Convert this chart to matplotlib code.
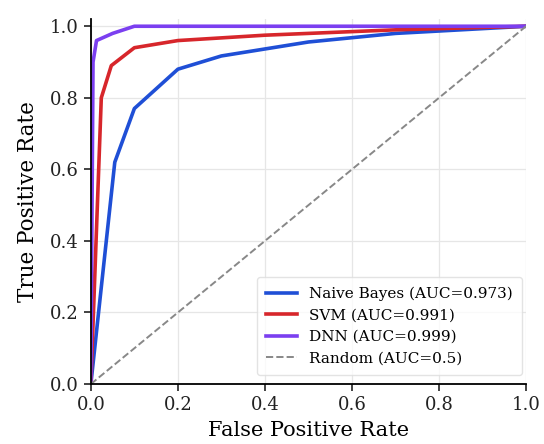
import numpy as np
import matplotlib
matplotlib.use("Agg")
import matplotlib.pyplot as plt

# ROC curve points
nb_fpr = [0.0, 0.055, 0.10, 0.20, 0.30, 0.50, 0.70, 1.0]
nb_tpr = [0.0, 0.62, 0.77, 0.88, 0.917, 0.956, 0.98, 1.0]

svm_fpr = [0.0, 0.024, 0.047, 0.10, 0.20, 0.40, 0.70, 1.0]
svm_tpr = [0.0, 0.80, 0.89, 0.94, 0.96, 0.975, 0.99, 1.0]

dnn_fpr = [0.0, 0.005, 0.013, 0.05, 0.10, 1.0]
dnn_tpr = [0.0, 0.90, 0.96, 0.98, 1.0, 1.0]

labels = ["Naive Bayes (AUC=0.973)", "SVM (AUC=0.991)", "DNN (AUC=0.999)", "Random (AUC=0.5)"]

plt.rcParams['font.family'] = ['DejaVu Serif']

fig = plt.figure(figsize=(5.44, 4.44), dpi=100)
ax = fig.add_axes([0.167, 0.135, 0.800, 0.822])

ax.plot(nb_fpr, nb_tpr, color="#1f4fd6", lw=2.6, label=labels[0])
ax.plot(svm_fpr, svm_tpr, color="#d7262b", lw=2.6, label=labels[1])
ax.plot(dnn_fpr, dnn_tpr, color="#7b3ff0", lw=2.6, label=labels[2])
ax.plot([0, 1], [0, 1], color="#888888", lw=1.4, ls="--", label=labels[3])

ax.set_xlim(0, 1)
ax.set_ylim(0, 1.02)
ax.set_xticks(np.arange(0, 1.01, 0.2))
ax.set_yticks(np.arange(0, 1.01, 0.2))
ax.tick_params(labelsize=13, length=5, width=1.2, colors="#222222")
ax.set_xlabel("False Positive Rate", fontsize=15, labelpad=5)
ax.set_ylabel("True Positive Rate", fontsize=15.5, labelpad=8)
ax.grid(True, color="#e6e6e6", lw=0.9)
ax.spines["top"].set_visible(False)
ax.spines["right"].set_visible(False)
ax.spines["left"].set_linewidth(1.3)
ax.spines["bottom"].set_linewidth(1.3)

ax.legend(loc="lower right", fontsize=11, frameon=True, edgecolor="#dddddd",
          handlelength=2.0, borderpad=0.6, borderaxespad=0,
          bbox_to_anchor=(0.991, 0.025))

fig.savefig("out.png", dpi=100)
